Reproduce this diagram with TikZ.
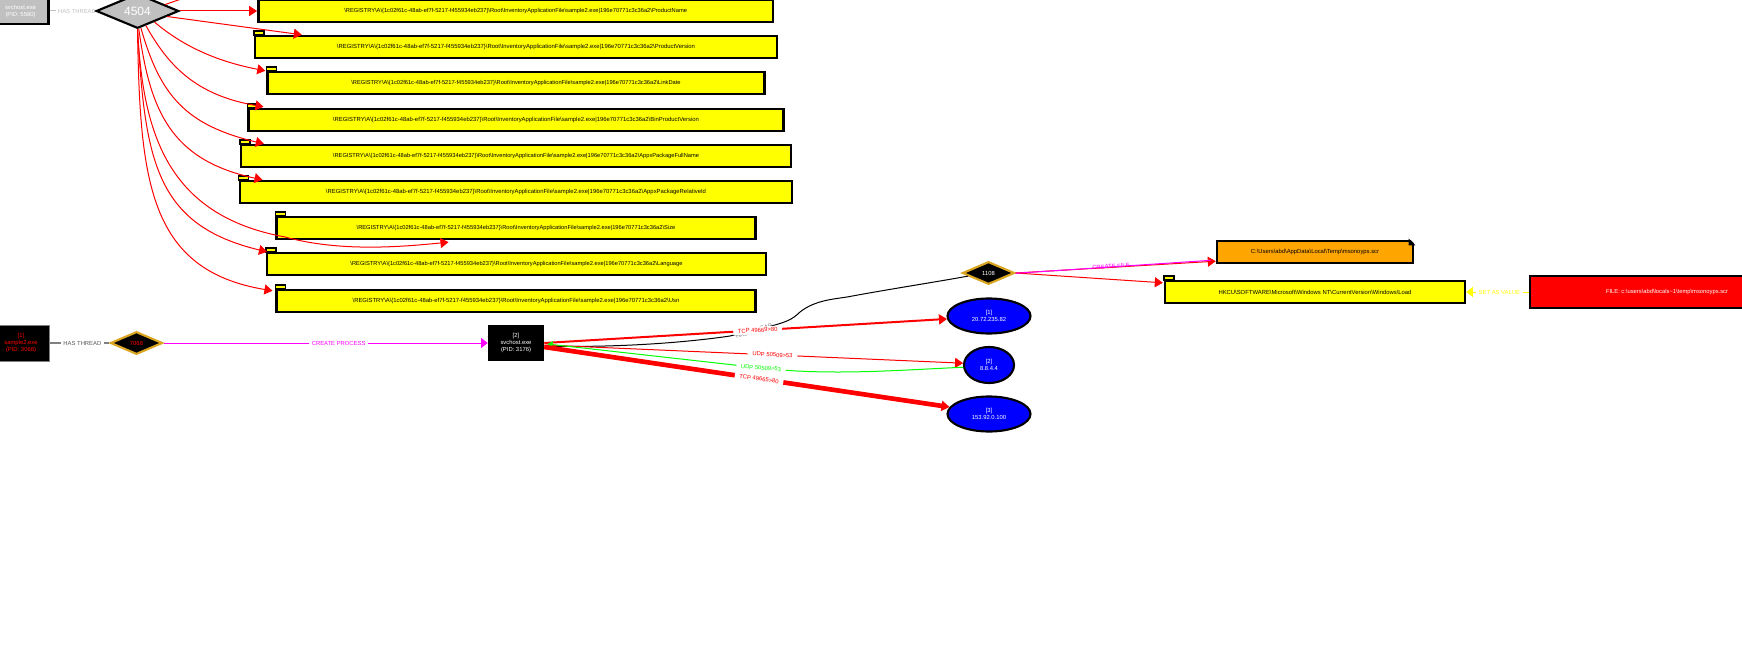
\documentclass[tikz,border=0pt]{standalone}
\usepackage{fontspec}
\usepackage{graphicx}
\setmainfont{Liberation Sans}
\usetikzlibrary{arrows.meta,calc,shapes.geometric}
\newcommand\regpath[1]{\textbackslash REGISTRY\textbackslash A\textbackslash\{1c02f61c-48ab-ef7f-5217-f455934eb237\}\textbackslash Root\textbackslash InventoryApplicationFile\textbackslash sample2.exe|196e70771c3c36a2\textbackslash #1}
\newcommand\fitw[2]{\resizebox{#1}{!}{#2}}
\definecolor{gold}{HTML}{DAA520}
\definecolor{lightgr}{HTML}{C0C0C0}
\definecolor{orangefill}{HTML}{FFA500}
\definecolor{mag}{HTML}{FF00FF}
\definecolor{ylw}{HTML}{FFFF00}
\definecolor{rd}{HTML}{FF0000}
\definecolor{grn}{HTML}{00FF00}
\definecolor{blu}{HTML}{0000FF}
\tikzset{
  tiny/.style={font=\fontsize{4.4}{5.25}\selectfont},
  regbox/.style={rectangle,draw=black,fill=ylw,line width=1.8pt,minimum height=16.5pt,inner sep=0pt,tiny},
  tabshape/.style={draw=black,fill=ylw,line width=1.2pt},
  procbox/.style={rectangle,fill=black,minimum width=42pt,minimum height=27pt,inner sep=0pt,align=center,tiny},
  thread/.style={diamond,aspect=2,fill=black,draw=gold,line width=1.6pt,minimum width=39pt,minimum height=17pt,inner sep=0pt,tiny},
  bigthread/.style={diamond,aspect=2,fill=lightgr,draw=black,line width=1.6pt,minimum width=62pt,minimum height=26pt,inner sep=0pt,text=white,font=\fontsize{9}{10}\selectfont},
  ipnode/.style={ellipse,fill=blu,draw=black,line width=1.6pt,inner sep=0pt,align=center,text=white,tiny},
  edgetext/.style={tiny,fill=white,inner xsep=3.5pt,inner ysep=1pt},
  red edge/.style={rd,line width=.75pt,-{Triangle[length=6pt,width=7.5pt]}},
  thick tip/.style={-{Triangle[length=6pt,width=7.5pt]}},
}
\begin{document}
\begin{tikzpicture}[x=0.75pt,y=-0.75pt]
\clip (0,0) rectangle (1742,663);
\fill[white] (0,0) rectangle (1742,663);
% registry boxes
\node[regbox,minimum width=386pt]   (b1) at (515.7,11) {\fitw{257pt}{\regpath{ProductName}}};
\node[regbox,minimum width=391.5pt] (b2) at (516,47)   {\fitw{268.5pt}{\regpath{ProductVersion}}};
\node[regbox,minimum width=372.75pt](b3) at (516,83)   {\fitw{247pt}{\regpath{LinkDate}}};
\node[regbox,minimum width=401pt]   (b4) at (516,120)  {\fitw{274.5pt}{\regpath{BinProductVersion}}};
\node[regbox,minimum width=412.5pt] (b5) at (516,156)  {\fitw{274.5pt}{\regpath{AppxPackageFullName}}};
\node[regbox,minimum width=414.4pt] (b6) at (516,192)  {\fitw{285pt}{\regpath{AppxPackageRelativeId}}};
\node[regbox,minimum width=359pt]   (b7) at (516,228)  {\fitw{239pt}{\regpath{Size}}};
\node[regbox,minimum width=374pt]   (b8) at (516.5,264){\fitw{249pt}{\regpath{Language}}};
\node[regbox,minimum width=359pt]   (b9) at (516,301)  {\fitw{245pt}{\regpath{Usn}}};
\foreach \b in {b2,b3,b4,b5,b6,b7,b8,b9}
  \draw[tabshape] (\b.north west) rectangle ++(10,-4);
% top process and thread
\node[procbox,fill=lightgr,draw=black,line width=1.8pt,minimum height=19.5pt,text=white] (top) at (20.5,11) {svchost.exe\\(PID: 5580)};
\path node[bigthread,draw=none,fill=none,text opacity=0] (d4504) at (137.5,11) {4504};
\draw[lightgr,line width=.75pt] (top.east) -- node[tiny,fill=white,inner sep=1.5pt,pos=.6] {HAS THREAD} (d4504.west);
\node[bigthread] at (d4504.center) {4504};
\coordinate (offtop) at (213,-12);
\draw[rd,line width=.75pt] ($(d4504.north)!.65!(d4504.east)$) -- (offtop);
% edges from 4504
\draw[red edge] (d4504.east) -- (b1.west);
\draw[red edge] ($(d4504.east)!.3!(d4504.south)$) -- ($(b2.north west)+(48,0)$);
\draw[red edge] ($(d4504.east)!.6!(d4504.south)$) .. controls (185,48) and (220,62) .. ($(b3.north west)+(-1,0)$);
\draw[red edge] ($(d4504.east)!.8!(d4504.south)$) .. controls (168,65) and (195,95) .. ($(b4.north west)+(16,-1)$);
\draw[red edge] ($(d4504.east)!.92!(d4504.south)$) .. controls (160,95) and (185,125) .. ($(b5.north west)+(24,0)$);
\draw[red edge] ($(d4504.east)!.97!(d4504.south)$) .. controls (150,110) and (170,160) .. ($(b6.north west)+(24,0)$);
\draw[red edge] (d4504.south) .. controls (143,130) and (165,215) .. (285,237) .. controls (340,252) and (400,247) .. ($(b7.south west)+(173,2)$);
\draw[red edge] (d4504.south) .. controls (145,160) and (155,225) .. ($(b8.north west)+(1,0)$);
\draw[red edge] (d4504.south) .. controls (140,180) and (148,270) .. ($(b9.north west)+(-3,2)$);
% bottom chain
\node[procbox,draw=gray,line width=.5pt,text=rd] (sam) at (21,343) {[1]\\sample2.exe\\(PID: 3068)};
\node[thread,text=rd] (t7068) at (136.5,343) {7068};
\node[procbox,text=white] (svc) at (516,343) {[2]\\svchost.exe\\(PID: 3176)};
\draw[gray,line width=1pt] (sam.east) -- node[tiny,text=gray!70!black,fill=white,inner sep=2pt,pos=.55] {HAS THREAD} (t7068.west);
\draw[mag,line width=.75pt,-{Triangle[length=5pt,width=7.5pt]}] (t7068.east) -- node[tiny,fill=white,inner sep=2pt,pos=.54] {CREATE PROCESS} (svc.west);
% ip nodes
\node[ipnode,minimum width=62.25pt,minimum height=26.25pt] (ip1) at (989,316) {[1]\\20.72.235.82};
\node[ipnode,minimum width=37.5pt,minimum height=27pt] (ip2) at (989,365) {[2]\\8.8.4.4};
\node[ipnode,minimum width=62.25pt,minimum height=26.25pt] (ip3) at (989,414) {[3]\\153.92.0.100};
% thread 1108 and its targets
\node[thread,text=white] (t1108) at (988.5,273) {1108};
\node[rectangle,draw=black,fill=orangefill,line width=1.8pt,minimum width=147pt,minimum height=16.5pt,inner sep=0pt,tiny] (file) at (1315,252) {C:\textbackslash Users\textbackslash abd\textbackslash AppData\textbackslash Local\textbackslash Temp\textbackslash msonoyps.scr};
\fill[white] ($(file.north east)+(-5,-1.4)$) -- ($(file.north east)+(1.4,-1.4)$) -- ($(file.north east)+(1.4,5)$) -- cycle;
\fill[black] ($(file.north east)+(-5.5,-1.2)$) -- ($(file.north east)+(1.2,5.5)$) -- ($(file.north east)+(-5.5,5.5)$) -- cycle;
\node[regbox,minimum width=225pt] (hk) at (1315,292) {\fitw{144.75pt}{HKCU\textbackslash SOFTWARE\textbackslash Microsoft\textbackslash Windows NT\textbackslash CurrentVersion\textbackslash Windows\textbackslash Load}};
\draw[tabshape] (hk.north west) rectangle ++(10,-4);
\node[rectangle,draw=black,fill=rd,line width=1.8pt,minimum width=205.5pt,minimum height=24pt,inner sep=0pt,text=white,tiny] (rf) at (1667,292) {\fitw{91.5pt}{FILE: c:\textbackslash users\textbackslash abd\textbackslash locals\textasciitilde 1\textbackslash temp\textbackslash msonoyps.scr}};
\draw[ylw,line width=.75pt,-{Triangle[length=5pt,width=7.5pt]}] (rf.west) -- node[tiny,fill=white,inner sep=2pt,pos=.47] {SET AS VALUE} (hk.east);
% svchost to thread 1108
\draw[black,line width=.75pt] ($(svc.east)+(0,3)$) .. controls (620,348) and (690,342) .. (730,336) -- (775,325) .. controls (785,322) and (792,320) .. (800,312) .. controls (815,300) and (835,299) .. (847,297) .. controls (890,289) and (930,283) .. ($(t1108.west)!.25!(t1108.south)$);
\node[tiny,text=gray,rotate=18] at (754,331) {HAS THREAD};
% network edges
\draw[rd,line width=1.5pt,thick tip] (svc.east) -- (ip1.184) node[edgetext,pos=.53,rotate=3.5] (l1) {TCP 49669>80};
\draw[red edge] ($(svc.east)+(0,2)$) -- (ip2.176) node[edgetext,pos=.545,rotate=-3.5] (l2) {UDP 50509>53};
\path node[edgetext,draw=none,fill=none,text opacity=0,rotate=-4] (l3) at (761,368) {UDP 50509>53};
\draw[grn,line width=.75pt,-{Triangle[length=4pt,width=5pt]}] (ip2.185) .. controls (900,370) and (830,376) .. (l3.center) -- ($(svc.east)+(3,1)$);
\node[edgetext,text=grn,rotate=-4] at (l3.center) {UDP 50509>53};
\draw[rd,line width=3.5pt,thick tip] ($(svc.east)+(0,4)$) -- (ip3.170) node[edgetext,pos=.53,rotate=-8] (l4) {TCP 49665>80};
% edges from 1108
\node[tiny,text=mag,rotate=4] (cf) at (1111,266.5) {CREATE FILE};
\draw[red edge] (t1108.east) -- ($(hk.north west)+(-1,3)$);
\draw[red edge] (t1108.east) -- ($(file.south west)+(0,-3)$);
\draw[mag,line width=.75pt] ($(t1108.east)+(0,.3)$) -- ($(file.south west)+(-5,-3.9)$);
\end{tikzpicture}
\end{document}
